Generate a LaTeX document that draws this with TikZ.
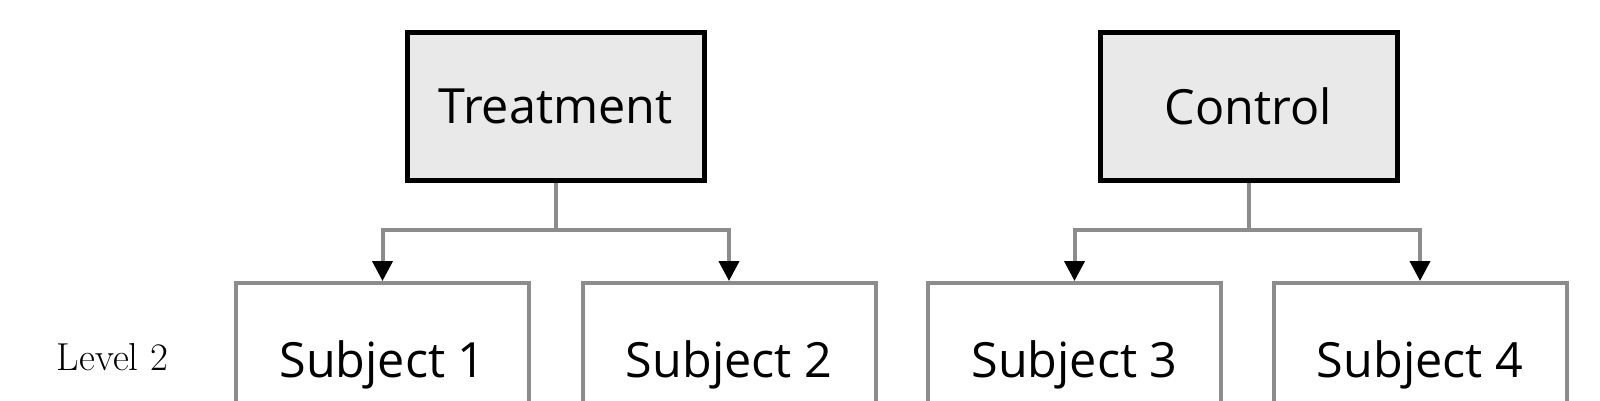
\documentclass[tikz,border=0pt]{standalone}
\usepackage{fontspec}
\setsansfont{Open Sans}
\usepackage{xcolor}
\usetikzlibrary{arrows.meta}

\definecolor{boxgray}{HTML}{E9E9E9}
\definecolor{linegray}{HTML}{8C8C8C}

\begin{document}
\begin{tikzpicture}[x=1pt,y=-1pt,
    group/.style={rectangle,draw=black,line width=5pt,fill=boxgray,inner sep=0pt,
        minimum width=297pt,minimum height=148pt,font=\sffamily\fontsize{48.5}{50}\selectfont},
    subject/.style={rectangle,draw=linegray,line width=4pt,inner sep=0pt,
        minimum width=293pt,minimum height=164pt,font=\sffamily\fontsize{48.5}{50}\selectfont},
    link/.style={draw=linegray,line width=4pt},
    arrow/.style={link,-{Triangle[width=20pt,length=20pt,color=black]}}]
    \useasboundingbox (0,0) rectangle (1600,400);
    \clip (0,0) rectangle (1600,400);

    \draw (555.5,106.5) node (treat) [group] {Treatment};
    \draw (1248.5,106.5) node (ctrl) [group] {Control};
    \draw (382.5,365) node (subj1) [subject] {Subject 1};
    \draw (729,365) node (subj2) [subject] {Subject 2};
    \draw (1074.5,365) node (subj3) [subject] {Subject 3};
    \draw (1420,365) node (subj4) [subject] {Subject 4};
    \draw (112.5,357) node (level) [font=\fontsize{39}{40}\selectfont] {Level 2};

    \coordinate (tsplit) at (555.5,230);
    \coordinate (csplit) at (1248.5,230);

    \draw[link] (treat) -- (tsplit);
    \draw[arrow] (tsplit) -| (subj1);
    \draw[arrow] (tsplit) -| (subj2);
    \draw[link] (ctrl) -- (csplit);
    \draw[arrow] (csplit) -| (subj3);
    \draw[arrow] (csplit) -| (subj4);
\end{tikzpicture}
\end{document}
